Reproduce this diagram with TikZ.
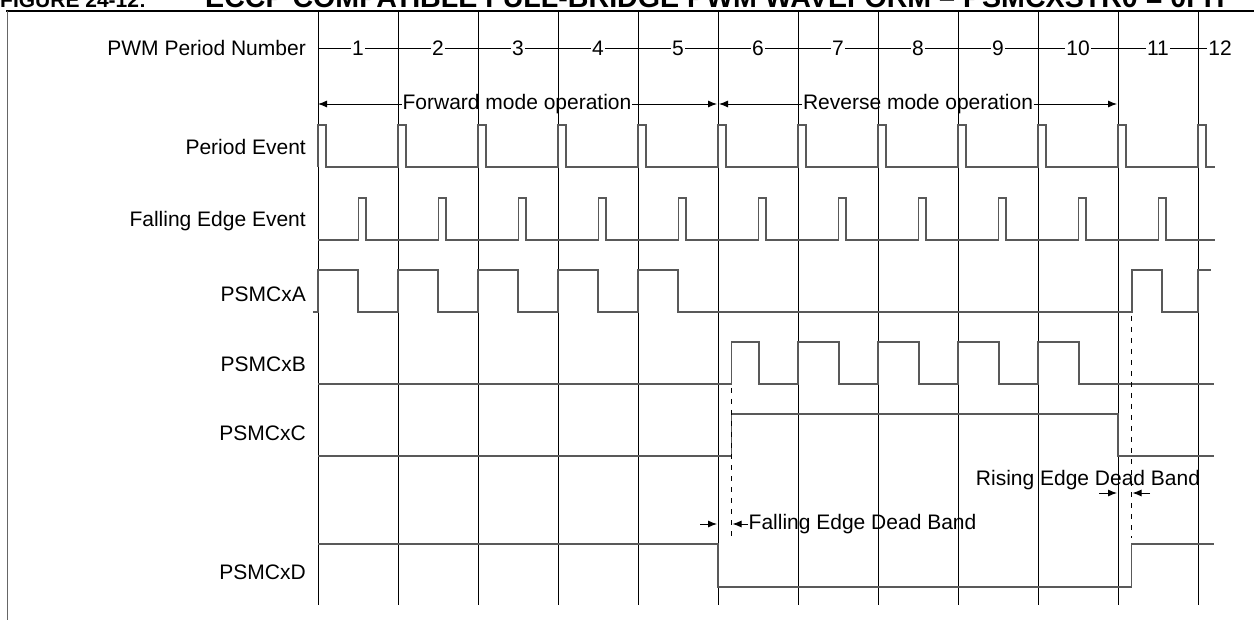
\documentclass[tikz,border=0pt]{standalone}
\usepackage{fontspec}
\setmainfont{Liberation Sans}
\usetikzlibrary{arrows.meta, positioning}

\begin{document}
\begin{tikzpicture}[
    x=1pt, y=-1pt,
    font=\fontsize{21}{25}\selectfont,
    grid/.style={draw=black, line width=0.9pt},
    wave/.style={draw=black!65, line width=1.4pt},
    lbl/.style={anchor=base east, inner sep=0pt},
    num/.style={inner sep=1pt},
    note/.style={inner sep=0.5pt},
    head/.style={anchor=base west, inner sep=0pt, font=\fontsize{28.6}{30}\selectfont\bfseries},
    arrow/.style={-{Latex[length=9pt,width=7pt]}, line width=0.9pt},
    dead/.style={draw=black, line width=0.8pt, dash pattern=on 5pt off 6pt}
]

\useasboundingbox (0,0) rectangle (1254,620);

% Title and frame
\node[head, font=\fontsize{21}{25}\selectfont\bfseries] (fig) at (0,8) {FIGURE 24-12:};
\node[head] (title) at (205,8) {ECCP COMPATIBLE FULL-BRIDGE PWM WAVEFORM -- PSMCXSTR0 = 0FH};
\draw[line width=1.2pt] (6,11) -- (1254,11);
\draw[draw=black!60, line width=1.6pt] (7.5,11) -- (7.5,620);

% Period boundaries
\foreach \k in {0,...,11}
    \draw[grid] ({318+80*\k},11) -- ({318+80*\k},605);

% Signal names
\node[lbl] (pwm) at (306,56) {PWM Period Number};
\node[lbl] (pev) at (306,155) {Period Event};
\node[lbl] (fev) at (306,227) {Falling Edge Event};
\node[lbl] (outa) at (306,302) {PSMCxA};
\node[lbl] (outb) at (306,372) {PSMCxB};
\node[lbl] (outc) at (306,440) {PSMCxC};
\node[lbl] (outd) at (306,579) {PSMCxD};

% Period numbers
\coordinate (nstart) at (318,48);
\foreach \n in {1,...,11}
    \node[num] (n\n) at ({278+80*\n},48) {\n};
\node[num] (n12) at (1220,48) {12};
\draw[grid] (nstart) -- (n1);
\foreach \a [count=\b from 2] in {1,...,11}
    \draw[grid] (n\a) -- (n\b);

% Mode arrows
\node[note] (fwd) at (517,104) {Forward mode operation};
\node[note] (rev) at (918,104) {Reverse mode operation};
\coordinate (fwdL) at (318,104);
\coordinate (fwdR) at (717,104);
\coordinate (revL) at (719,104);
\coordinate (revR) at (1117,104);
\draw[arrow] (fwd) -- (fwdL);
\draw[arrow] (fwd) -- (fwdR);
\draw[arrow] (rev) -- (revL);
\draw[arrow] (rev) -- (revR);

% Period Event
\draw[wave] (318,167) foreach \k in {1,...,11} { -- ++(0,-42) -- ++(8,0) -- ++(0,42) -- ++(72,0) }
    -- ++(0,-42) -- ++(8,0) -- ++(0,42) -- ++(9,0);

% Falling Edge Event
\draw[wave] (318,240) foreach \k in {1,...,11} { -- ++(40.5,0) -- ++(0,-42) -- ++(7.5,0) -- ++(0,42) -- ++(32,0) }
    -- ++(17,0);

% PSMCxA
\draw[wave] (313,312) -- (318,312) foreach \k in {1,...,5} { -- ++(0,-42) -- ++(40,0) -- ++(0,42) -- ++(40,0) }
    -- (1132,312) -- (1132,270) -- (1162,270) -- (1162,312) -- (1198,312) -- (1198,270) -- (1211,270);

% PSMCxB
\draw[wave] (318,384) -- (731.5,384) -- (731.5,342) -- (759,342) -- (759,384) -- (798,384)
    foreach \k in {1,...,4} { -- ++(0,-42) -- ++(41,0) -- ++(0,42) -- ++(39,0) } -- (1214,384);

% PSMCxC
\draw[wave] (318,456) -- (731.5,456) -- (731.5,414) -- (1118,414) -- (1118,456) -- (1214,456);

% PSMCxD
\draw[wave] (318,544) -- (718,544) -- (718,587) -- (1131.5,587) -- (1131.5,544) -- (1214,544);

% Dead bands
\draw[dead] (731.5,388) -- (731.5,538);
\draw[dead] (1131.5,316) -- (1131.5,538);

\node[note, anchor=west] (fedb) at (748,524) {Falling Edge Dead Band};
\coordinate (fa1) at (700,524);
\coordinate (fa2) at (717,524);
\coordinate (fb2) at (732.5,524);
\draw[arrow] (fa1) -- (fa2);
\draw[arrow] (fedb) -- (fb2);

\node[note] (redb) at (1088,480) {Rising Edge Dead Band};
\coordinate (ra1) at (1099,493);
\coordinate (ra2) at (1117,493);
\coordinate (rb1) at (1150,493);
\coordinate (rb2) at (1132.5,493);
\draw[arrow] (ra1) -- (ra2);
\draw[arrow] (rb1) -- (rb2);

\end{tikzpicture}
\end{document}
